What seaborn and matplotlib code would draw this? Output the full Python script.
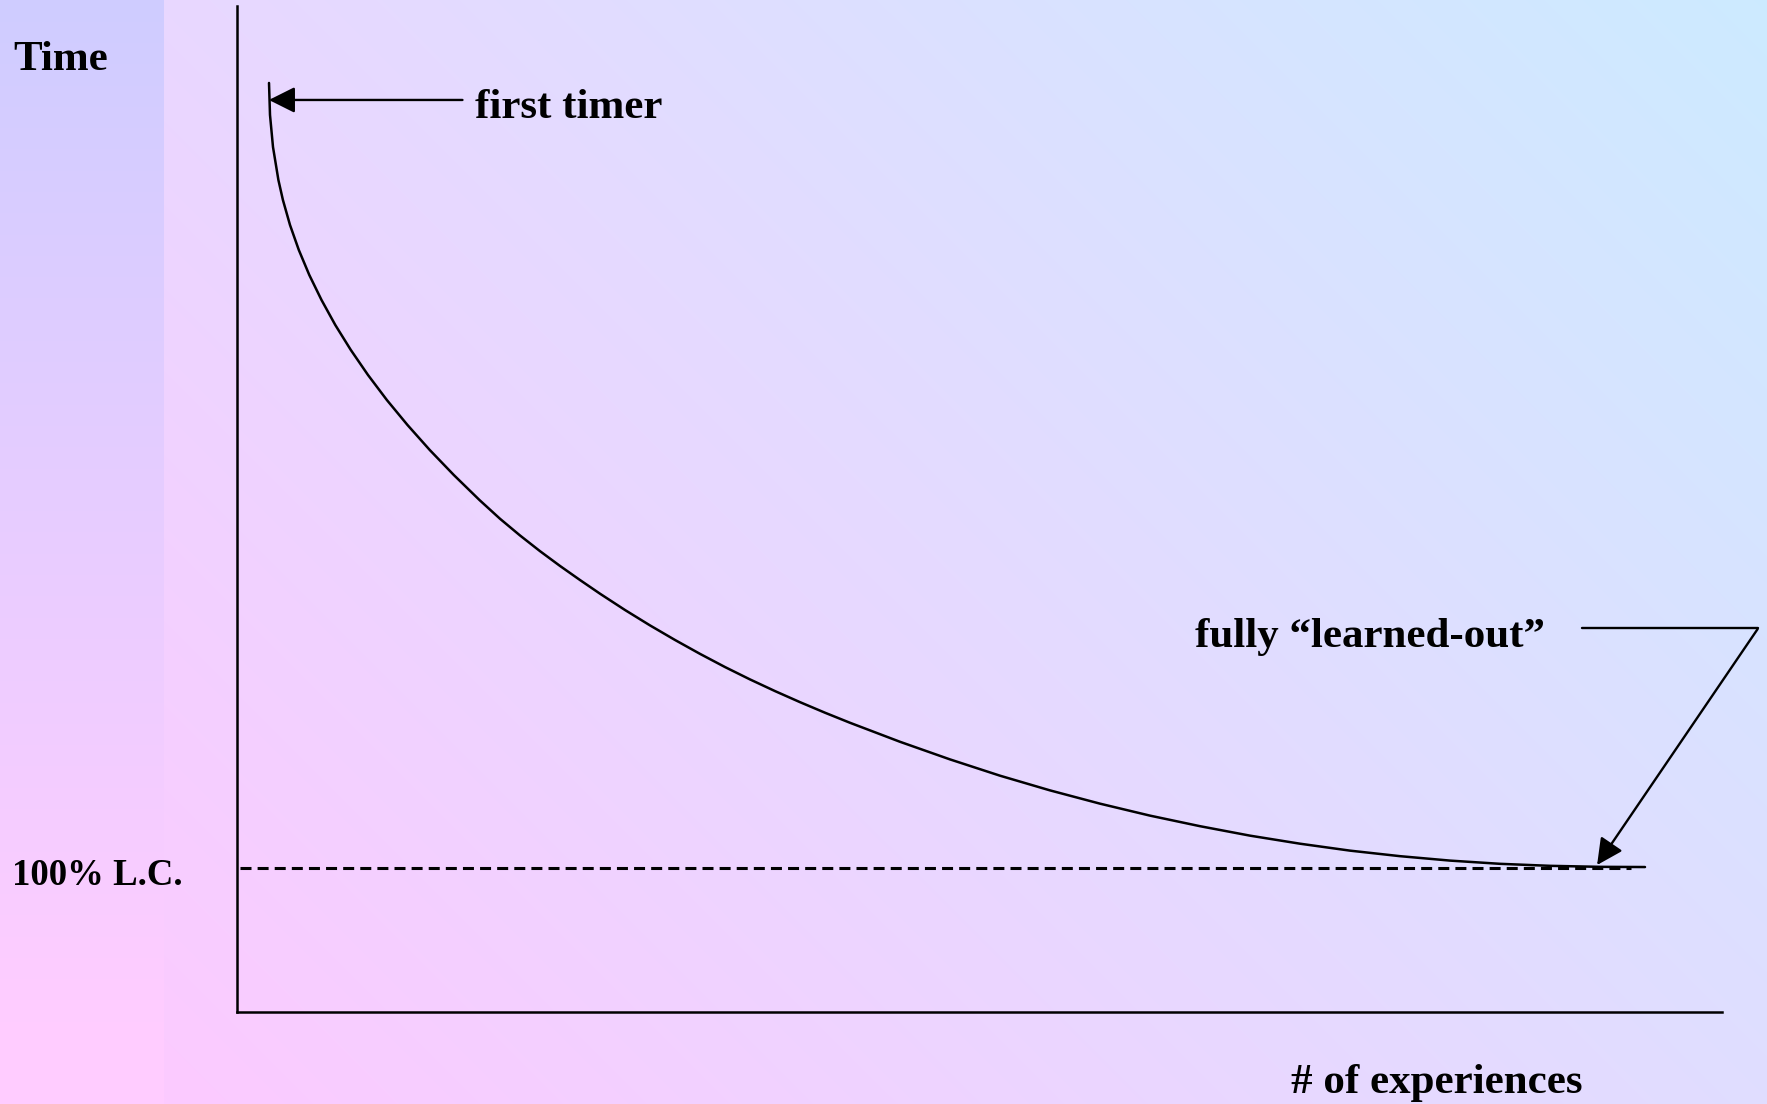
import numpy as np
import matplotlib
matplotlib.use("Agg")
import matplotlib.pyplot as plt
import seaborn as sns

# learning curve (x: experiences, y: time, both 0-100)
experiences = [2.175, 2.242, 2.444, 2.808, 3.111, 3.589, 4.181, 4.888, 5.709,
               6.638, 7.682, 8.840, 10.112, 11.499, 13.001, 14.617, 16.347,
               17.727, 19.074, 20.420, 21.767, 23.113, 24.460, 26.143, 27.826,
               29.510, 31.193, 32.876, 34.559, 36.242, 37.925, 39.608, 41.291,
               44.658, 48.024, 51.391, 54.757, 58.123, 61.489, 64.856, 68.222,
               71.588, 74.955, 78.321, 81.687, 85.054, 88.420, 91.786, 94.816]
time_taken = [92.35, 89.17, 85.98, 82.70, 80.72, 78.23, 75.75, 73.26, 70.78,
              68.29, 65.81, 63.32, 60.83, 58.35, 55.86, 53.38, 50.89,
              49.03, 47.37, 45.81, 44.34, 42.94, 41.58, 39.96, 38.43,
              36.98, 35.60, 34.29, 33.06, 31.90, 30.80, 29.75, 28.75,
              26.86, 25.11, 23.49, 22.03, 20.71, 19.52, 18.47, 17.53,
              16.73, 16.04, 15.49, 15.05, 14.73, 14.53, 14.43, 14.41]
floor_level = 14.31
floor_span = [0.2, 93.9]

first_label = "first timer"
learned_label = "fully \u201clearned-out\u201d"
y_label = "Time"
floor_label = "100% L.C."
x_label = "# of experiences"

sns.set_style("white")
plt.rcParams["font.family"] = ["Liberation Serif", "DejaVu Serif"]
plt.rcParams["font.weight"] = "bold"
plt.rcParams["text.color"] = "black"

W, H = 1767, 1104
fig = plt.figure(figsize=(W / 100, H / 100), dpi=100)

# background gradient: pink bottom-left to light blue top-right, plus left strip
yy, xx = np.mgrid[0:H, 0:W].astype(float)
d = (xx - 240) - (yy - 30)
img = np.zeros((H, W, 3))
img[..., 0] = 232 - 0.0175 * d
img[..., 1] = 216 + 0.012 * d
img[..., 2] = 255
strip = xx < 164
img[..., 0][strip] = (207 + 0.047 * yy)[strip]
img[..., 1][strip] = 204
img = np.clip(img, 0, 255) / 255
bg = fig.add_axes([0, 0, 1, 1])
bg.imshow(img, aspect="auto", interpolation="nearest")
bg.axis("off")

ax = fig.add_axes([236.7 / W, 1 - 1012 / H, (1722 - 236.7) / W, (1012 - 6) / H])
ax.patch.set_alpha(0)
sns.lineplot(x=experiences, y=time_taken, estimator=None, sort=False,
             color="black", lw=1.8, ax=ax)
ax.hlines(floor_level, floor_span[0], floor_span[1], colors="black",
          lw=2.2, linestyles=(0, (3.6, 2.0)))
ax.set_xlim(0, 100)
ax.set_ylim(0, 100)
ax.set_xticks([])
ax.set_yticks([])
sns.despine(ax=ax)
for s in ["left", "bottom"]:
    ax.spines[s].set_color("black")
    ax.spines[s].set_linewidth(1.8)

arrow = dict(arrowstyle="-|>", mutation_scale=40, lw=1.7, color="black",
             shrinkA=0, shrinkB=0)
ax.annotate("", xy=(2.17, 90.66), xytext=(15.2, 90.66), arrowprops=arrow)
ax.text(16.04, 88.87, first_label, fontsize=31, fontweight="bold", va="baseline")

ax.plot([90.58, 102.4], [38.17, 38.17], color="black", lw=1.7, clip_on=False)
ax.annotate("", xy=(91.59, 14.61), xytext=(102.4, 38.07), arrowprops=arrow,
            annotation_clip=False)
ax.text(64.52, 36.28, learned_label, fontsize=31, fontweight="bold", va="baseline")

fig.text(13 / W, 1 - 70 / H, y_label, fontsize=31, fontweight="bold", va="baseline")
fig.text(12 / W, 1 - 885 / H, floor_label, fontsize=26.5, fontweight="bold", va="baseline")
fig.text(1291 / W, 1 - 1093 / H, x_label, fontsize=31, fontweight="bold", va="baseline")

fig.savefig("out.png", dpi=100)
